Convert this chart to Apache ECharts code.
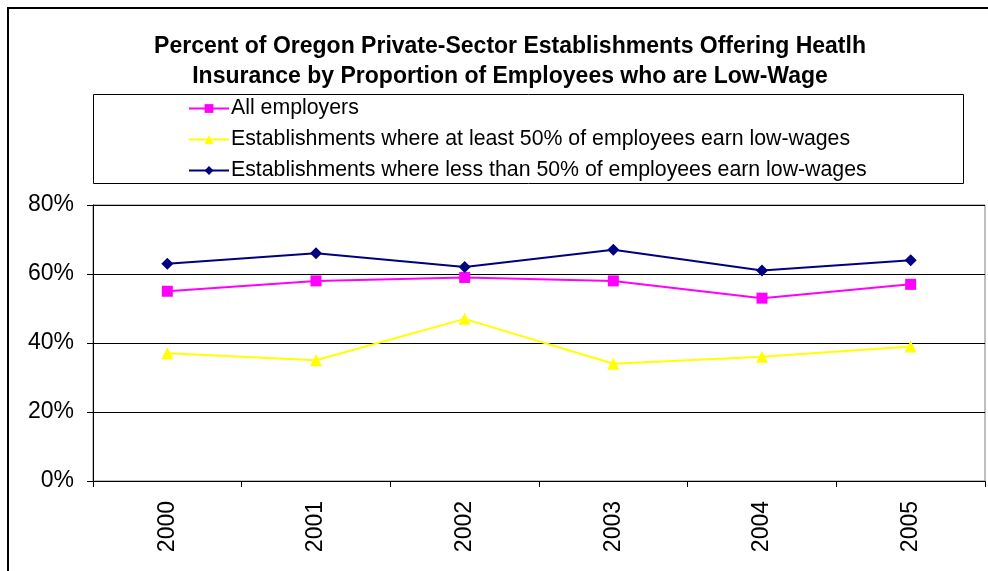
<!DOCTYPE html>
<html>
<head>
<meta charset="utf-8">
<script src="https://cdn.jsdelivr.net/npm/echarts@6/dist/echarts.min.js"></script>
<style>
  html, body { margin: 0; padding: 0; background: #fff; }
  #main { width: 988px; height: 571px; }
</style>
</head>
<body>
<div id="main"></div>
<script>
// categories and values (percent)
var years = ['2000', '2001', '2002', '2003', '2004', '2005'];
var allEmployers = [55, 58, 59, 58, 53, 57];
var atLeast50 = [37, 35, 47, 34, 36, 39];
var lessThan50 = [63, 66, 62, 67, 61, 64];
var yTicks = [0, 20, 40, 60, 80];

var seriesNames = [
  'All employers',
  'Establishments where at least 50% of employees earn low-wages',
  'Establishments where less than 50% of employees earn low-wages'
];

var chart = echarts.init(document.getElementById('main'));
var font = 'Arial, "Liberation Sans", sans-serif';

var option = {
  backgroundColor: '#fff',
  animation: false,
  title: {
    text: 'Percent of Oregon Private-Sector Establishments Offering Heatlh\nInsurance by Proportion of Employees who are Low-Wage',
    left: 505,
    textAlign: 'center',
    top: 27,
    textStyle: {
      fontFamily: font,
      fontSize: 23,
      fontWeight: 'bold',
      color: '#000',
      lineHeight: 30
    }
  },
  legend: {
    orient: 'vertical',
    left: 183,
    top: 92,
    itemGap: 8,
    itemWidth: 40,
    itemHeight: 11,
    data: seriesNames,
    textStyle: { fontFamily: font, fontSize: 21.3, color: '#000', lineHeight: 23, padding: [0, 0, 0, -3] }
  },
  graphic: [
    {
      type: 'rect',
      shape: { x: 8, y: 8, width: 1000, height: 600 },
      style: { fill: 'none', stroke: '#000', lineWidth: 2 },
      z: -1
    },
    {
      type: 'rect',
      shape: { x: 93.5, y: 94.5, width: 870, height: 89 },
      style: { fill: 'none', stroke: '#000', lineWidth: 1 },
      z: -1
    }
  ],
  grid: {
    left: 93,
    right: 3,
    top: 205,
    bottom: 90,
    show: true,
    borderColor: '#808080',
    borderWidth: 1,
    containLabel: false
  },
  xAxis: {
    type: 'category',
    data: years,
    boundaryGap: true,
    axisLine: { lineStyle: { color: '#000', width: 1 } },
    axisTick: { show: true, alignWithLabel: false, length: 6, lineStyle: { color: '#000' } },
    axisLabel: {
      rotate: 90,
      margin: 20,
      fontFamily: font,
      fontSize: 23,
      color: '#000'
    }
  },
  yAxis: {
    type: 'value',
    min: 0,
    max: 80,
    interval: 20,
    axisLine: { show: true, lineStyle: { color: '#000', width: 1 } },
    axisTick: { show: true, length: 6, lineStyle: { color: '#000' } },
    splitLine: { show: true, lineStyle: { color: '#000', width: 1 } },
    axisLabel: {
      margin: 19,
      fontFamily: font,
      fontSize: 23,
      color: '#000',
      formatter: function (v) { return yTicks.indexOf(v) >= 0 ? v + '%' : ''; }
    }
  },
  series: [
    {
      name: seriesNames[0],
      type: 'line',
      data: allEmployers,
      symbol: 'rect',
      symbolSize: 11,
      itemStyle: { color: '#FF00FF' },
      lineStyle: { color: '#FF00FF', width: 2 }
    },
    {
      name: seriesNames[1],
      type: 'line',
      data: atLeast50,
      symbol: 'triangle',
      symbolSize: 12,
      itemStyle: { color: '#FFFF00' },
      lineStyle: { color: '#FFFF00', width: 2 }
    },
    {
      name: seriesNames[2],
      type: 'line',
      data: lessThan50,
      symbol: 'diamond',
      symbolSize: 12,
      itemStyle: { color: '#000080' },
      lineStyle: { color: '#000080', width: 2 }
    }
  ]
};

chart.setOption(option);
</script>
</body>
</html>
